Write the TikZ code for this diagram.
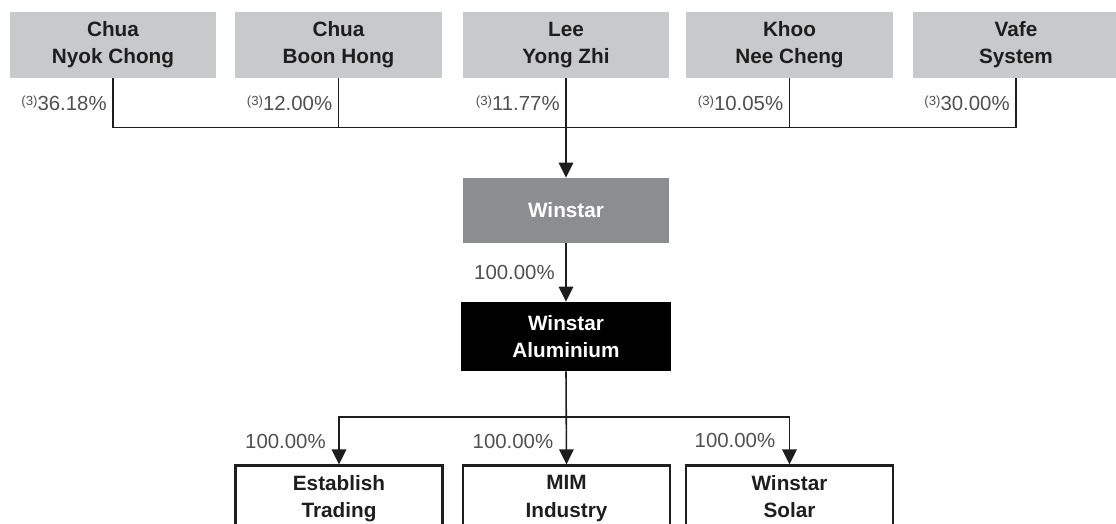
\documentclass[tikz,border=0pt]{standalone}
\usepackage{fontspec}
\setmainfont{Liberation Sans}
\usetikzlibrary{arrows.meta}
\definecolor{topgray}{RGB}{200,201,203}
\definecolor{midgray}{RGB}{140,141,143}
\definecolor{linecol}{RGB}{30,30,30}
\definecolor{txtdark}{RGB}{30,30,30}
\definecolor{pctcol}{RGB}{80,80,80}
\newcommand{\supthree}{{\fontsize{7.5}{7.5}\selectfont\raisebox{0.42em}{(3)}}}
\begin{document}
\begin{tikzpicture}[x=0.02cm,y=-0.02cm,
  boxbase/.style={minimum width=4.14cm, minimum height=1.32cm, inner sep=0pt, align=center,
    font=\fontsize{11.8}{15.4}\selectfont\bfseries},
  topbox/.style={boxbase, fill=topgray, text=txtdark},
  winbox/.style={boxbase, fill=midgray, text=white, minimum height=1.30cm},
  alubox/.style={boxbase, fill=black, text=white, minimum width=4.2cm, minimum height=1.38cm},
  subbox/.style={boxbase, draw=linecol, line width=1.3pt, fill=white, text=txtdark},
  pct/.style={font=\fontsize{11.6}{13}\selectfont, text=pctcol, inner sep=0pt, anchor=east},
  conn/.style={draw=linecol, line width=0.9pt},
  arr/.style={conn, -{Triangle[width=0.29cm,length=0.3cm]}}
]
\useasboundingbox (0,0) rectangle (1116,524);
\clip (0,0) rectangle (1116,524);

% top shareholders
\node[topbox] (t1) at (113,45) {Chua\\Nyok Chong};
\node[topbox] (t2) at (338.5,45) {Chua\\Boon Hong};
\node[topbox] (t3) at (566,45) {Lee\\Yong Zhi};
\node[topbox] (t4) at (789.5,45) {Khoo\\Nee Cheng};
\node[topbox] (t5) at (1016,45) {Vafe\\System};

\node[winbox] (win) at (566,210.5) {Winstar};
\node[alubox] (alu) at (566,336.5) {Winstar\\Aluminium};

\node[subbox] (b1) at (339,498.5) {Establish\\Trading};
\node[subbox] (b2) at (566.5,498.5) {MIM\\Industry};
\node[subbox] (b3) at (789.5,498.5) {Winstar\\Solar\vphantom{g}};

% bus lines
\coordinate (bus) at (566,127.5);
\coordinate (br) at (566,417);
\draw[conn] (t1.south) |- (bus) -| (t5.south);
\draw[conn] (t2.south) -- (t2.south |- bus);
\draw[conn] (t4.south) -- (t4.south |- bus);
\draw[arr] (t3.south) -- (win.north);
\draw[arr] (win.south) -- (alu.north);
\draw[arr] (alu.south) -- (b2.north);
\draw[arr] (br) -| (b1.north);
\draw[arr] (br) -| (b3.north);

% percentage labels
\node[pct] (p1) at ([shift={(-6,25)}]t1.south) {\supthree36.18\%};
\node[pct] (p2) at ([shift={(-6,25)}]t2.south) {\supthree12.00\%};
\node[pct] (p3) at ([shift={(-6,25)}]t3.south) {\supthree11.77\%};
\node[pct] (p4) at ([shift={(-6,25)}]t4.south) {\supthree10.05\%};
\node[pct] (p5) at ([shift={(-6,25)}]t5.south) {\supthree30.00\%};
\node[pct] (pw) at ([shift={(-11,29)}]win.south) {100.00\%};
\node[pct] (q1) at ([shift={(-13,-23)}]b1.north) {100.00\%};
\node[pct] (q2) at ([shift={(-13,-23)}]b2.north) {100.00\%};
\node[pct] (q3) at ([shift={(-14,-24)}]b3.north) {100.00\%};
\end{tikzpicture}
\end{document}
